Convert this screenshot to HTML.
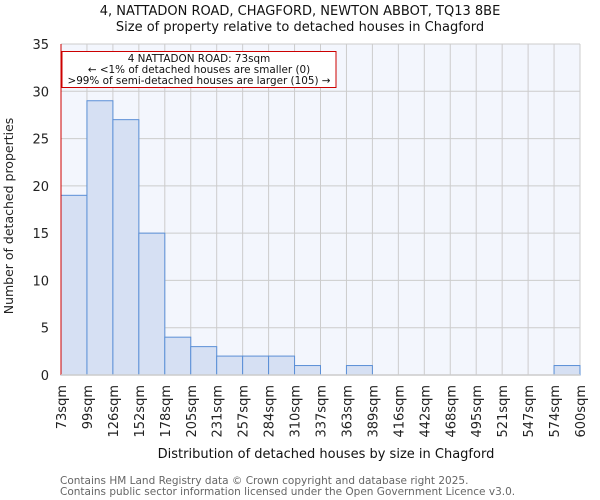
<!DOCTYPE html>
<html><head><meta charset="utf-8"><style>
body{margin:0;background:#fff;}
svg{display:block;font-family:"DejaVu Sans","Liberation Sans",sans-serif;}
</style></head><body>
<svg id="c" width="600" height="500"></svg>
<script>
const categories=["73sqm","99sqm","126sqm","152sqm","178sqm","205sqm","231sqm","257sqm","284sqm","310sqm","337sqm","363sqm","389sqm","416sqm","442sqm","468sqm","495sqm","521sqm","547sqm","574sqm","600sqm"];
const counts=[19,29,27,15,4,3,2,2,2,1,0,1,0,0,0,0,0,0,0,1];
const yTicks=[0,5,10,15,20,25,30,35];
const propertyBin=0;
const NS="http://www.w3.org/2000/svg";
const svg=document.getElementById('c');
const L=61,R=580,T=44,B=375,yMax=35;
const xs=i=>L+(R-L)*i/counts.length;
const ys=v=>B-(B-T)*v/yMax;
function mk(t,a,p){const e=document.createElementNS(NS,t);for(const k in a)e.setAttribute(k,a[k]);(p||svg).appendChild(e);return e;}
function tx(x,y,s,a){const e=mk('text',Object.assign({x:x,y:y},a));e.textContent=s;return e;}
let e=mk('rect',{x:L,y:T,width:R-L,height:B-T,fill:'#f3f6fd'});


for(let i=0;i<=counts.length;i++){e=mk('line',{x1:xs(i),x2:xs(i),y1:T,y2:B,stroke:'#ccc','stroke-width':1});

}
yTicks.forEach(v=>{e=mk('line',{x1:L,x2:R,y1:ys(v),y2:ys(v),stroke:'#ccc','stroke-width':1});


e=tx(L-12,ys(v)+5,String(v),{'text-anchor':'end','font-size':13,fill:'#222'});

});
counts.forEach((v,i)=>{if(v<=0)return;e=mk('rect',{x:xs(i),y:ys(v),width:xs(i+1)-xs(i),height:B-ys(v),fill:'#d6e0f3',stroke:'#5b8fd6','stroke-width':1});

});
categories.forEach((c,i)=>{e=tx(0,0,c,{transform:`translate(${xs(i)+5},${B+10}) rotate(-90)`,'text-anchor':'end','font-size':13,fill:'#222'});

});
e=mk('line',{x1:xs(propertyBin),x2:xs(propertyBin),y1:T,y2:B,stroke:'#c00','stroke-width':1});


e=mk('line',{x1:L,x2:R,y1:B,y2:B,stroke:'#ccc','stroke-width':1.5});


const g=mk('g',{});


mk('rect',{x:62,y:51.5,width:274,height:36,fill:'#fff',stroke:'#c00','stroke-width':1},g);
tx(199,62,'4 NATTADON ROAD: 73sqm',{'text-anchor':'middle','font-size':10.4,fill:'#111'},g);
tx(199,73,'← <1% of detached houses are smaller (0)',{'text-anchor':'middle','font-size':10.4,fill:'#111'},g);
tx(199,84,'>99% of semi-detached houses are larger (105) →',{'text-anchor':'middle','font-size':10.4,fill:'#111'},g);
e=tx(300,15,'4, NATTADON ROAD, CHAGFORD, NEWTON ABBOT, TQ13 8BE',{'text-anchor':'middle','font-size':13,fill:'#111'});


e=tx(300,31,'Size of property relative to detached houses in Chagford',{'text-anchor':'middle','font-size':13,fill:'#111'});


e=tx(0,0,'Number of detached properties',{transform:'translate(13,216) rotate(-90)','text-anchor':'middle','font-size':12.5,fill:'#222'});


e=tx(326,458,'Distribution of detached houses by size in Chagford',{'text-anchor':'middle','font-size':13,fill:'#111'});


e=tx(60,484,'Contains HM Land Registry data © Crown copyright and database right 2025.',{'font-size':10.5,fill:'#666'});


e=tx(60,495,'Contains public sector information licensed under the Open Government Licence v3.0.',{'font-size':10.5,fill:'#666'});


</script>
</body></html>
